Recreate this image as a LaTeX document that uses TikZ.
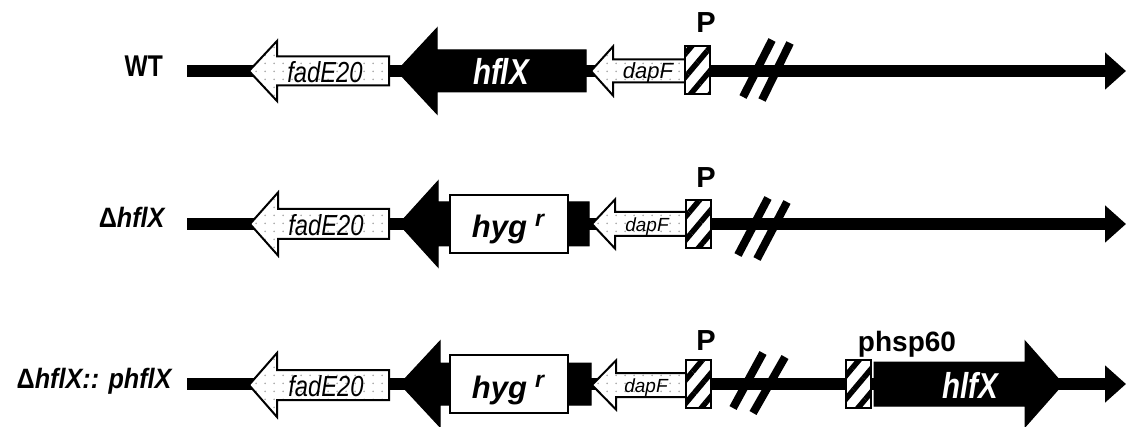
\documentclass[tikz,border=0pt]{standalone}
\usepackage{fontspec}
\setmainfont{Liberation Sans}
\newfontfamily\condsf{Liberation Sans}[FakeStretch=0.82]
\newfontfamily\labsf{Liberation Sans}[FakeStretch=0.9]
\usetikzlibrary{arrows.meta,patterns.meta}
\tikzdeclarepattern{
  name=sparsedots,
  type=uncolored,
  bounding box={(0pt,0pt) and (9pt,8pt)},
  tile size={(9pt,8pt)},
  code={\fill (4.5pt,4pt) circle (1pt);}
}
\newcommand\setfs[1]{\fontsize{#1}{#1}\selectfont}
% left-pointing gene: tip x, head base x, right x, centre y, half head, half body, style
\newcommand\lgene[7]{\path[#7] (#1,#4) -- (#2,#4-#5) -- (#2,#4-#6) -- (#3,#4-#6) -- (#3,#4+#6) -- (#2,#4+#6) -- (#2,#4+#5) -- cycle;}
% right-pointing gene: left x, head base x, tip x, centre y, half head, half body, style
\newcommand\rgene[7]{\path[#7] (#3,#4) -- (#2,#4-#5) -- (#2,#4-#6) -- (#1,#4-#6) -- (#1,#4+#6) -- (#2,#4+#6) -- (#2,#4+#5) -- cycle;}
\begin{document}
\begin{tikzpicture}[x=1pt,y=-1pt,
  backbone/.style={line width=12pt,-{Triangle[length=21pt,width=36pt]}},
  opengene/.style={draw=black,line width=2pt,preaction={fill=white},pattern=sparsedots,pattern color=gray!70},
  blackgene/.style={draw=black,line width=1pt,fill=black},
  markerbox/.style={draw=black,line width=2pt,preaction={fill=white},pattern={Lines[angle=50,distance=15pt,line width=5.5pt]},pattern color=black,minimum width=25pt,minimum height=48pt,inner sep=0pt},
  resbox/.style={draw=black,line width=2pt,fill=white,minimum width=118pt,minimum height=58pt,inner sep=0pt},
  breakmark/.style={line width=8pt},
  txt/.style={inner sep=0pt,anchor=base},
  rowlabel/.style={inner sep=0pt,anchor=base east},
]
\useasboundingbox (0,0) rectangle (1126,427);

% ---------------- Row 1: WT ----------------
\node[rowlabel] (wt) at (163,77) {\condsf\bfseries\setfs{30}WT};
\coordinate (s1) at (187,71);
\coordinate (e1) at (1126,71);
\draw[backbone] (s1) -- (e1);
\lgene{249}{277}{389}{71}{30}{14.5}{opengene}
\node[txt] (fad1) at (325,83) {\condsf\itshape\setfs{29}fadE20};
\lgene{397}{437}{586}{71}{43}{21}{blackgene}
\node[txt,text=white] (hfl1) at (501,85) {\condsf\bfseries\itshape\setfs{36}hflX};
\lgene{591}{613}{685}{71}{24.5}{11.5}{opengene}
\node[txt] (dap1) at (648,79) {\itshape\setfs{22}dapF};
\node[markerbox] (p1) at (697.5,70) {};
\node[txt] (pl1) at (706,33) {\bfseries\setfs{29}P};
\coordinate (a1) at (743,97); \coordinate (b1) at (772,40);
\coordinate (c1) at (762,100); \coordinate (d1) at (790,43);
\draw[breakmark] (a1) -- (b1);
\draw[breakmark] (c1) -- (d1);

% ---------------- Row 2: Delta hflX ----------------
\node[rowlabel] (dl2) at (166,228) {\labsf\bfseries\setfs{28}Δ\textit{hflX}};
\coordinate (s2) at (187,224);
\coordinate (e2) at (1126,224);
\draw[backbone] (s2) -- (e2);
\lgene{250}{278}{389}{224}{31.5}{15}{opengene}
\node[txt] (fad2) at (326,236) {\condsf\itshape\setfs{29}fadE20};
\lgene{399}{438}{589}{224}{43}{22}{blackgene}
\node[resbox] (hyg2) at (509,224.5) {};
\node[txt] (hygt2) at (508,238) {\bfseries\itshape\setfs{31}hyg\hspace{8pt}\raisebox{11pt}{\setfs{23}r}};
\lgene{592}{615}{686}{224}{24.5}{12}{opengene}
\node[txt] (dap2) at (647,232) {\itshape\setfs{19}dapF};
\node[markerbox] (p2) at (698,224) {};
\node[txt] (pl2) at (706,188) {\bfseries\setfs{29}P};
\coordinate (a2) at (738,255); \coordinate (b2) at (768,198);
\coordinate (c2) at (757,259); \coordinate (d2) at (787,202);
\draw[breakmark] (a2) -- (b2);
\draw[breakmark] (c2) -- (d2);

% ---------------- Row 3: Delta hflX :: phflX ----------------
\node[rowlabel] (dl3) at (173,388) {\labsf\bfseries\setfs{28}Δ\textit{hflX:: phflX}};
\coordinate (s3) at (187,384);
\coordinate (e3) at (1126,384);
\draw[backbone] (s3) -- (e3);
\lgene{249}{277}{389}{385}{32}{15}{opengene}
\node[txt] (fad3) at (326,396) {\condsf\itshape\setfs{29}fadE20};
\lgene{400}{440}{591}{384}{43}{21}{blackgene}
\node[resbox] (hyg3) at (509,384) {};
\node[txt] (hygt3) at (508,398) {\bfseries\itshape\setfs{31}hyg\hspace{8pt}\raisebox{11pt}{\setfs{23}r}};
\lgene{592}{616}{686}{385}{24.5}{12}{opengene}
\node[txt] (dap3) at (646,392) {\itshape\setfs{19}dapF};
\node[markerbox] (p3) at (698,384) {};
\node[txt] (pl3) at (706,350) {\bfseries\setfs{29}P};
\coordinate (a3) at (733,408); \coordinate (b3) at (763,353);
\coordinate (c3) at (753,413); \coordinate (d3) at (785,357);
\draw[breakmark] (a3) -- (b3);
\draw[breakmark] (c3) -- (d3);
\node[markerbox] (ph3) at (858.5,384) {};
\node[txt] (phl3) at (907,351) {\bfseries\setfs{28}phsp60};
\rgene{874}{1025}{1063}{384}{43}{22}{blackgene}
\node[txt,text=white] (hlf3) at (970,398) {\condsf\bfseries\itshape\setfs{36}hlfX};
\end{tikzpicture}
\end{document}
